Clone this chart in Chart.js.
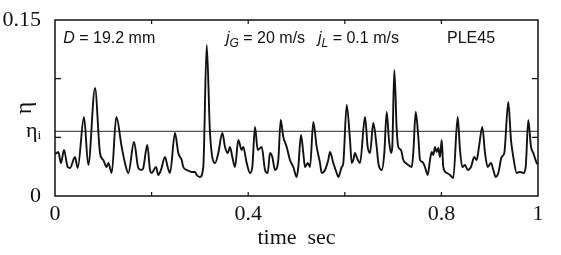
<!DOCTYPE html>
<html>
<head>
<meta charset="utf-8">
<script src="https://cdn.jsdelivr.net/npm/chart.js@4.4.0/dist/chart.umd.min.js"></script>
<style>
  html, body { margin: 0; padding: 0; background: #fff; }
</style>
</head>
<body>
<canvas id="holdupChart" width="561" height="255"></canvas>
<script>
// time trace of liquid holdup
const timeSec = [
  0, 0.0035, 0.0068, 0.0124, 0.0186, 0.0263, 0.0311, 0.0414, 0.047, 0.06, 0.0689,
  0.0828, 0.0932, 0.1, 0.107, 0.1104, 0.1174, 0.1269, 0.1381, 0.1449, 0.1518,
  0.1636, 0.1725, 0.1795, 0.1828, 0.1911, 0.1967, 0.2002, 0.2091, 0.2139, 0.2195,
  0.2277, 0.2333, 0.2381, 0.2484, 0.2553, 0.2623, 0.2656, 0.2727, 0.283, 0.2899,
  0.2934, 0.3002, 0.307, 0.3141, 0.3209, 0.3313, 0.3381, 0.3464, 0.352, 0.3576,
  0.3623, 0.3671, 0.3727, 0.3795, 0.3865, 0.3898, 0.3969, 0.4037, 0.4085, 0.4141,
  0.4197, 0.428, 0.4348, 0.4404, 0.4451, 0.4499, 0.4555, 0.4623, 0.4673, 0.4727,
  0.4797, 0.4865, 0.4934, 0.5004, 0.5037, 0.5093, 0.5141, 0.5176, 0.5232, 0.528,
  0.5348, 0.5418, 0.5487, 0.5522, 0.559, 0.5658, 0.5694, 0.5762, 0.5832, 0.5865,
  0.5936, 0.5969, 0.6039, 0.6108, 0.6143, 0.6176, 0.6211, 0.6246, 0.6315, 0.6418,
  0.6474, 0.6522, 0.659, 0.666, 0.6694, 0.6764, 0.6818, 0.6867, 0.6915, 0.6957,
  0.6983, 0.7025, 0.7075, 0.7108, 0.7164, 0.7211, 0.7261, 0.7315, 0.7385, 0.7418,
  0.7468, 0.7522, 0.7557, 0.7605, 0.766, 0.7716, 0.7764, 0.7799, 0.7832, 0.7867,
  0.7903, 0.7936, 0.7971, 0.8006, 0.8039, 0.811, 0.8178, 0.8246, 0.8337, 0.8385,
  0.8433, 0.8489, 0.8545, 0.8613, 0.8681, 0.8731, 0.8778, 0.8847, 0.8903, 0.8958,
  0.9027, 0.9075, 0.9124, 0.9178, 0.9248, 0.9302, 0.9385, 0.9441, 0.9489, 0.9559,
  0.9627, 0.9696, 0.9745, 0.9799, 0.9855, 0.9903, 0.9973, 1
];
const eta = [
  0.036, 0.0366, 0.0375, 0.0281, 0.0392, 0.0247, 0.0239, 0.0332, 0.0239, 0.0673, 0.0264,
  0.092, 0.0366, 0.0307, 0.0247, 0.0281, 0.0196, 0.0673, 0.0418, 0.0281, 0.0196,
  0.046, 0.0239, 0.0222, 0.0239, 0.0435, 0.0222, 0.0196, 0.0247, 0.0179, 0.0222,
  0.0332, 0.0247, 0.0196, 0.0537, 0.0366, 0.0307, 0.0247, 0.0222, 0.0205, 0.0205,
  0.0179, 0.0162, 0.0247, 0.1287, 0.0537, 0.0281, 0.0366, 0.0537, 0.0418, 0.0366,
  0.0418, 0.0332, 0.0247, 0.0477, 0.0392, 0.0418, 0.0281, 0.0196, 0.0247, 0.0588,
  0.0392, 0.0418, 0.0222, 0.0196, 0.0366, 0.0332, 0.0222, 0.0307, 0.0648, 0.0503,
  0.0418, 0.0307, 0.0247, 0.0162, 0.0247, 0.052, 0.0366, 0.0247, 0.0281, 0.0247,
  0.0631, 0.0418, 0.0281, 0.0196, 0.0222, 0.0307, 0.0375, 0.0281, 0.0196, 0.0162,
  0.0247, 0.0281, 0.0776, 0.0477, 0.0281, 0.0307, 0.0366, 0.0332, 0.0281, 0.0673,
  0.0418, 0.0366, 0.0622, 0.0418, 0.0281, 0.0222, 0.0366, 0.0716, 0.0477, 0.0366,
  0.0418, 0.1074, 0.0562, 0.0418, 0.0392, 0.0307, 0.0281, 0.0264, 0.0247, 0.0366,
  0.0716, 0.0503, 0.0307, 0.029, 0.0247, 0.0179, 0.0307, 0.0375, 0.0349, 0.0418,
  0.0375, 0.0409, 0.0332, 0.0477, 0.0247, 0.0196, 0.0179, 0.0153, 0.0673, 0.0392,
  0.0247, 0.0264, 0.0222, 0.0247, 0.0332, 0.0307, 0.0418, 0.0588, 0.0366, 0.0247,
  0.0281, 0.0222, 0.0162, 0.0196, 0.0332, 0.0366, 0.0801, 0.0477, 0.0332, 0.0196,
  0.0205, 0.0196, 0.0247, 0.0648, 0.0418, 0.0366, 0.0281, 0.027
];
const etaI = 0.055;

const xTickValues = [0, 0.2, 0.4, 0.6, 0.8, 1];
const xTickLabels = ['0', '', '0.4', '', '0.8', '1'];
const yTickValues = [0, 0.05, 0.055, 0.1, 0.15];
const yTickLabels = ['0', '', 'ηᵢ', '', '0.15'];
const innerTicksX = [0.2, 0.4, 0.6, 0.8];
const innerTicksY = [0.05, 0.1];

// text inside the plot, anchored in data coordinates
const notes = [
  { t: 0.017, v: 0.1304, parts: [['D', 'italic'], [' = 19.2 mm', '']] },
  { t: 0.354, v: 0.1304, parts: [['j', 'italic'], ['G', 'sub'], [' = 20 m/s', '']] },
  { t: 0.5445, v: 0.1304, parts: [['j', 'italic'], ['L', 'sub'], [' = 0.1 m/s', '']] },
  { t: 0.8116, v: 0.1304, parts: [['PLE45', '']] }
];

const serif = '"Liberation Serif", "DejaVu Serif", serif';
const sans = '"Liberation Sans", Arial, sans-serif';

const framePlugin = {
  id: 'frame',
  afterDraw(chart) {
    const { ctx, chartArea: a, scales: { x, y } } = chart;
    ctx.save();
    ctx.strokeStyle = '#111';
    ctx.lineWidth = 1.5;
    ctx.strokeRect(a.left, a.top, a.right - a.left, a.bottom - a.top);

    ctx.lineWidth = 1.2;
    innerTicksX.forEach(v => {
      const px = x.getPixelForValue(v);
      ctx.beginPath();
      ctx.moveTo(px, a.bottom); ctx.lineTo(px, a.bottom - 4);
      ctx.moveTo(px, a.top); ctx.lineTo(px, a.top + 4);
      ctx.stroke();
    });
    innerTicksY.forEach(v => {
      const py = y.getPixelForValue(v);
      ctx.beginPath();
      ctx.moveTo(a.left, py); ctx.lineTo(a.left + 6, py);
      ctx.moveTo(a.right, py); ctx.lineTo(a.right - 6, py);
      ctx.stroke();
    });

    ctx.fillStyle = '#111';
    ctx.textBaseline = 'alphabetic';
    notes.forEach(n => {
      let px = x.getPixelForValue(n.t);
      const py = y.getPixelForValue(n.v);
      n.parts.forEach(([txt, style]) => {
        let dy = 0;
        if (style === 'italic') ctx.font = 'italic 16px ' + sans;
        else if (style === 'sub') { ctx.font = 'italic 12px ' + sans; dy = 4; }
        else ctx.font = '16px ' + sans;
        ctx.fillText(txt, px, py + dy);
        px += ctx.measureText(txt).width;
      });
    });
    ctx.restore();
  }
};

new Chart(document.getElementById('holdupChart'), {
  type: 'line',
  data: {
    datasets: [
      {
        label: 'eta',
        data: timeSec.map((t, i) => ({ x: t, y: eta[i] })),
        borderColor: '#111',
        borderWidth: 1.9,
        pointRadius: 0,
        tension: 0.35,
        cubicInterpolationMode: 'monotone',
        fill: false
      },
      {
        label: 'eta_i',
        data: [{ x: 0, y: etaI }, { x: 1, y: etaI }],
        borderColor: '#555',
        borderWidth: 1.2,
        pointRadius: 0,
        fill: false
      }
    ]
  },
  options: {
    responsive: false,
    animation: false,
    layout: { padding: { left: 0, right: 23, top: 20, bottom: 0 } },
    plugins: { legend: { display: false }, tooltip: { enabled: false } },
    scales: {
      x: {
        type: 'linear',
        min: 0,
        max: 1,
        afterBuildTicks: s => { s.ticks = xTickValues.map(v => ({ value: v })); },
        afterFit: s => { s.height = 59; },
        grid: { display: false },
        border: { display: false },
        ticks: {
          autoSkip: false,
          maxRotation: 0,
          padding: -3,
          color: '#111',
          font: { family: serif, size: 22 },
          callback: v => xTickLabels[xTickValues.indexOf(v)] ?? ''
        },
        title: {
          display: true,
          text: 'time  sec',
          color: '#111',
          font: { family: serif, size: 22 },
          padding: { top: 0, bottom: 4 }
        }
      },
      y: {
        min: 0,
        max: 0.15,
        afterBuildTicks: s => { s.ticks = yTickValues.map(v => ({ value: v })); },
        afterFit: s => { s.width = 55; },
        grid: { display: false },
        border: { display: false },
        ticks: {
          autoSkip: false,
          padding: 6,
          color: '#111',
          font: { family: serif, size: 22 },
          callback: v => yTickLabels[yTickValues.indexOf(v)] ?? ''
        },
        title: {
          display: true,
          text: 'η',
          color: '#111',
          font: { family: serif, size: 24 },
          padding: { top: 10, bottom: 0 }
        }
      }
    }
  },
  plugins: [framePlugin]
});
</script>
</body>
</html>
